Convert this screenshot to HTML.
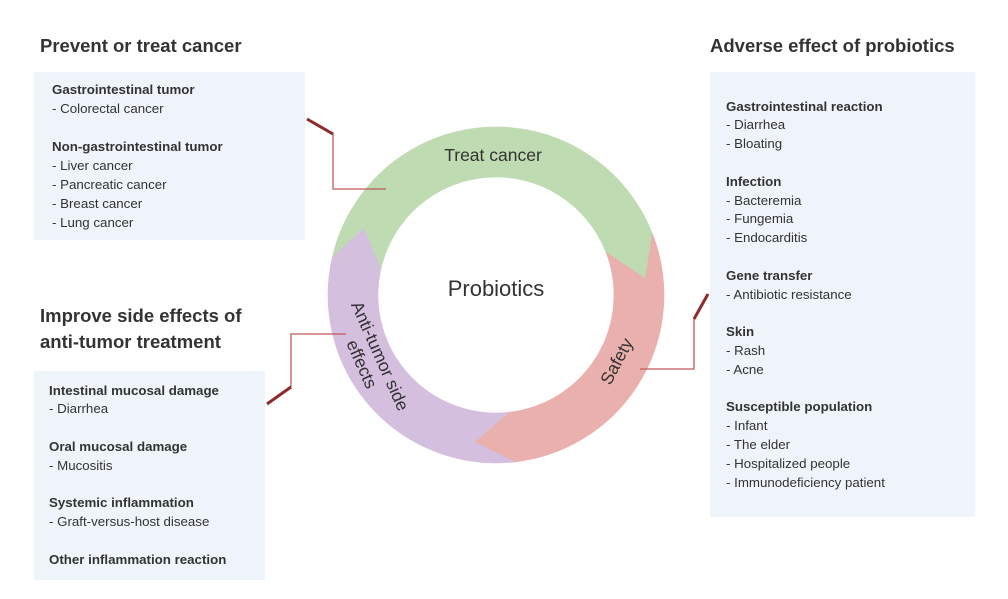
<!DOCTYPE html>
<html><head><meta charset="utf-8"><style>
body{margin:0;width:1008px;height:599px;background:#fff;position:relative;overflow:hidden;font-family:"Liberation Sans",Arial,sans-serif;color:#333}
.box{position:absolute;background:#eef4f9}
.h{position:absolute;font-weight:bold;font-size:18.5px;line-height:26px;color:#333;white-space:nowrap}
.t{position:absolute;font-size:13.3px;white-space:nowrap;color:#333}
.t b{font-weight:bold}
.lab{position:absolute;font-size:17.5px;color:#333;white-space:nowrap;text-align:center}
</style></head><body>
<div class="box" style="left:34px;top:72px;width:271px;height:168px"></div>
<div class="box" style="left:34px;top:371px;width:231px;height:209px"></div>
<div class="box" style="left:710px;top:72px;width:265px;height:445px"></div>

<div class="h" style="left:40px;top:33px">Prevent or treat cancer</div>
<div class="h" style="left:40px;top:303px">Improve side effects of<br>anti-tumor treatment</div>
<div class="h" style="left:710px;top:33px">Adverse effect of probiotics</div>

<div class="t" style="left:52px;top:79.5px;line-height:19px"><b>Gastrointestinal tumor</b><br>- Colorectal cancer<br><br><b>Non-gastrointestinal tumor</b><br>- Liver cancer<br>- Pancreatic cancer<br>- Breast cancer<br>- Lung cancer</div>

<div class="t" style="left:49px;top:381.6px;line-height:18.8px"><b>Intestinal mucosal damage</b><br>- Diarrhea<br><br><b>Oral mucosal damage</b><br>- Mucositis<br><br><b>Systemic inflammation</b><br>- Graft-versus-host disease<br><br><b>Other inflammation reaction</b></div>

<div class="t" style="left:726px;top:97.6px;line-height:18.8px"><b>Gastrointestinal reaction</b><br>- Diarrhea<br>- Bloating<br><br><b>Infection</b><br>- Bacteremia<br>- Fungemia<br>- Endocarditis<br><br><b>Gene transfer</b><br>- Antibiotic resistance<br><br><b>Skin</b><br>- Rash<br>- Acne<br><br><b>Susceptible population</b><br>- Infant<br>- The elder<br>- Hospitalized people<br>- Immunodeficiency patient</div>

<svg style="position:absolute;left:0;top:0" width="1008" height="599">
<path d="M652.3,233.4 A168 168 0 0 1 515.0,461.9 L509.4,412.2 A118 118 0 0 0 605.8,251.8 Z" fill="#eab0ae" stroke="#eab0ae" stroke-width="0.6"/>
<path d="M515.0,461.9 A168 168 0 0 1 332.3,257.2 L381.0,268.4 A118 118 0 0 0 509.4,412.2 Z" fill="#d5bfdf" stroke="#d5bfdf" stroke-width="0.6"/>
<path d="M332.3,257.2 A168 168 0 0 1 652.3,233.4 L605.8,251.8 A118 118 0 0 0 381.0,268.4 Z" fill="#bedbb1" stroke="#bedbb1" stroke-width="0.6"/>
<polygon points="652.3,233.4 645,278 605.8,251.8" fill="#bedbb1"/>
<polygon points="515.0,461.9 475,442 509.4,412.2" fill="#eab0ae"/>
<polygon points="332.3,257.2 364,228 381.0,268.4" fill="#d5bfdf"/>
<g fill="none" stroke="#c0585a" stroke-width="1.3">
<polyline points="333,133 333,189 386,189"/>
<polyline points="346,334 291,334 291,387"/>
<polyline points="640,369 694,369 694,318"/>
</g>
<g stroke="#8e2a2a" stroke-width="3" stroke-linecap="butt">
<line x1="307" y1="119" x2="333" y2="134"/>
<line x1="291" y1="387" x2="267" y2="404"/>
<line x1="694" y1="319" x2="708" y2="294"/>
</g>
</svg>

<div class="lab" style="left:393px;top:145px;width:200px">Treat cancer</div>
<div class="lab" style="left:396px;top:276px;width:200px;font-size:22px">Probiotics</div>
<div class="lab" style="left:567px;top:351px;width:100px;transform:rotate(-62deg)">Safety</div>
<div class="lab" style="left:306px;top:340px;width:130px;line-height:20px;transform:rotate(66deg)">Anti-tumor side<br>effects</div>
</body></html>
